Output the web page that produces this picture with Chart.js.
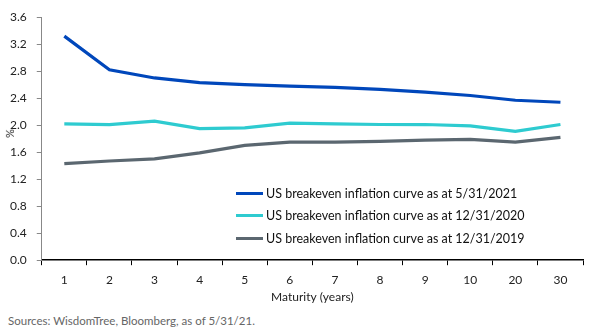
<!DOCTYPE html>
<html>
<head>
<meta charset="utf-8">
<script src="https://cdn.jsdelivr.net/npm/chart.js@4"></script>
<style>
  body { margin: 0; background: #fff; font-family: Lato, sans-serif; }
  #wrap { position: relative; width: 593px; height: 336px; }
  #chartBox { position: absolute; left: 0; top: 0; width: 593px; height: 304px; }
  #legend { position: absolute; left: 236px; top: 182px; font-size: 12.5px; color: #111; }
  #legend div { height: 22.5px; display: flex; align-items: center; }
  #legend span.swatch { display: inline-block; width: 27px; height: 3px; margin-right: 3px; }
  #yTitle { position: absolute; left: 5px; top: 127px; font-size: 11px; color: #222; transform: rotate(-90deg); }
  #source { position: absolute; left: 8px; top: 314px; font-size: 11.5px; color: #666; }
</style>
</head>
<body>
<div id="wrap">
  <div id="chartBox"><canvas id="curveChart"></canvas></div>
  <div id="yTitle">%</div>
  <div id="legend"></div>
  <div id="source">Sources: WisdomTree, Bloomberg, as of 5/31/21.</div>
</div>
<script>
const maturities = ['1', '2', '3', '4', '5', '6', '7', '8', '9', '10', '20', '30'];
const curve2021 = [3.32, 2.82, 2.70, 2.63, 2.60, 2.58, 2.56, 2.53, 2.49, 2.44, 2.37, 2.34];
const curve2020 = [2.02, 2.01, 2.06, 1.95, 1.96, 2.03, 2.02, 2.01, 2.01, 1.99, 1.91, 2.01];
const curve2019 = [1.43, 1.47, 1.50, 1.59, 1.70, 1.75, 1.75, 1.76, 1.78, 1.79, 1.75, 1.82];
const yTicks = [0, 0.4, 0.8, 1.2, 1.6, 2.0, 2.4, 2.8, 3.2, 3.6];

const series = [
    { label: 'US breakeven inflation curve as at 5/31/2021', data: curve2021, color: '#0047BB' },
    { label: 'US breakeven inflation curve as at 12/31/2020', data: curve2020, color: '#2ECBD0' },
    { label: 'US breakeven inflation curve as at 12/31/2019', data: curve2019, color: '#5B6770' }
];

Chart.defaults.font.family = 'Lato, sans-serif';
Chart.defaults.color = '#222';

const ctx = document.getElementById('curveChart').getContext('2d');
new Chart(ctx, {
    type: 'line',
    data: {
        labels: maturities,
        datasets: series.map(s => ({
            label: s.label,
            data: s.data,
            borderColor: s.color,
            backgroundColor: s.color,
            borderWidth: 3.2,
            pointRadius: 0,
            tension: 0
        }))
    },
    options: {
        responsive: true,
        maintainAspectRatio: false,
        animation: false,
        layout: { padding: { left: 0, right: 10, top: 6, bottom: 0 } },
        scales: {
            x: {
                offset: true,
                grid: { drawOnChartArea: false, drawTicks: true, tickLength: 5, color: '#000', offset: true },
                border: { color: '#000', width: 1.5 },
                ticks: { font: { size: 12 }, padding: 8, maxRotation: 0 },
                title: { display: true, text: 'Maturity (years)', font: { size: 12 }, padding: { top: -6, bottom: 0 } }
            },
            y: {
                min: 0,
                max: 3.6,
                afterBuildTicks: axis => { axis.ticks = yTicks.map(v => ({ value: v })); },
                grid: { drawOnChartArea: false, drawTicks: true, tickLength: 5, color: '#888' },
                border: { color: '#888' },
                ticks: { font: { size: 12 }, padding: 10, callback: v => v.toFixed(1) }
            }
        },
        plugins: {
            legend: { display: false },
            tooltip: { enabled: false }
        }
    }
});

// leyenda dentro del área del gráfico
const legendEl = document.getElementById('legend');
series.forEach(s => {
    const row = document.createElement('div');
    row.innerHTML = `<span class="swatch" style="background:${s.color}"></span>${s.label}`;
    legendEl.appendChild(row);
});
</script>
</body>
</html>
